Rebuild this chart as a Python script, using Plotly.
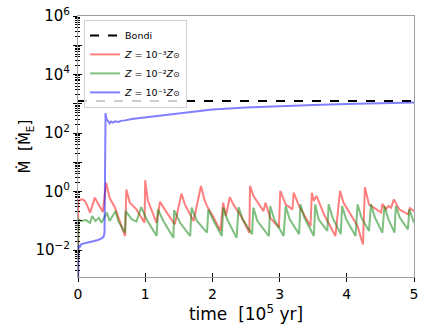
import plotly.graph_objects as go

# time in units of 1e5 yr, accretion rate in units of Mdot_E
bondi_t = [0.0, 5.0]
bondi_mdot = [1250, 1250]

red_t = [0.0, 0.003, 0.06, 0.10, 0.13, 0.18, 0.25, 0.31, 0.37, 0.42, 0.47, 0.55, 0.62, 0.70,
         0.72, 0.77, 0.87, 0.99, 1.00, 1.04, 1.17, 1.22, 1.32, 1.44, 1.54, 1.59, 1.72,
         1.83, 1.88, 1.92, 2.02, 2.12, 2.16, 2.20, 2.26, 2.31, 2.44, 2.55, 2.56, 2.61,
         2.76, 2.79, 2.86, 2.99, 3.01, 3.09, 3.19, 3.21, 3.29, 3.46, 3.48, 3.51, 3.55,
         3.66, 3.83, 3.90, 3.95, 4.16, 4.24, 4.27, 4.33, 4.51, 4.53, 4.58, 4.62, 4.66,
         4.70, 4.78, 4.91, 4.94, 5.00]
red_mdot = [1e-4, 0.48, 0.537, 0.48, 0.363, 0.19, 0.617, 0.35, 0.2, 2.0, 0.617, 0.28, 0.098, 0.030,
            1.17, 0.417, 0.245, 0.085, 2.4, 0.48, 0.085, 0.447, 0.19, 0.076, 0.85, 0.363, 0.098,
            1.55, 0.537, 0.316, 0.126, 0.045, 0.417, 0.145, 0.646, 0.363, 0.126, 0.039, 1.55, 0.708,
            0.214, 0.417, 0.126, 0.058, 1.05, 0.363, 0.245, 0.91, 0.316, 0.066, 0.91, 0.48, 0.708,
            0.166, 0.030, 1.05, 0.417, 0.066, 0.0155, 1.41, 0.363, 0.19, 0.38, 0.245, 0.316, 0.28,
            0.537, 0.245, 0.166, 0.27, 0.21]

green_t = [0.0, 0.003, 0.05, 0.12, 0.18, 0.21, 0.26, 0.31, 0.35, 0.43, 0.47, 0.56, 0.60, 0.70,
           0.71, 0.80, 0.87, 0.94, 1.02, 1.17, 1.19, 1.27, 1.42, 1.43, 1.52, 1.67, 1.69, 1.77,
           1.92, 1.94, 2.02, 2.14, 2.16, 2.22, 2.36, 2.39, 2.45, 2.59, 2.61, 2.67, 2.84, 2.86,
           2.92, 3.06, 3.09, 3.15, 3.29, 3.31, 3.37, 3.51, 3.53, 3.58, 3.71, 3.73, 3.79, 3.91,
           3.93, 3.99, 4.13, 4.16, 4.22, 4.33, 4.36, 4.42, 4.53, 4.56, 4.62, 4.71, 4.73, 4.79,
           4.91, 4.93, 5.00]
green_mdot = [1e-4, 0.112, 0.098, 0.105, 0.085, 0.145, 0.098, 0.126, 0.085, 0.19, 0.098, 0.214, 0.098, 0.039,
              0.214, 0.112, 0.093, 0.295, 0.112, 0.030, 0.245, 0.098, 0.026, 0.23, 0.085, 0.030, 0.28, 0.098,
              0.039, 0.245, 0.098, 0.030, 0.28, 0.112, 0.026, 0.295, 0.112, 0.035, 0.28, 0.098, 0.030, 0.316,
              0.112, 0.030, 0.316, 0.112, 0.035, 0.363, 0.126, 0.030, 0.363, 0.112, 0.045, 0.363, 0.126, 0.035,
              0.316, 0.112, 0.030, 0.363, 0.126, 0.045, 0.363, 0.126, 0.039, 0.316, 0.112, 0.039, 0.316, 0.126,
              0.051, 0.245, 0.085]

blue_t = [0.0, 0.004, 0.02, 0.05, 0.10, 0.15, 0.20, 0.25, 0.30, 0.35, 0.38, 0.395, 0.41, 0.42,
          0.43, 0.45, 0.47, 0.49, 0.52, 0.55, 0.60, 0.65, 0.70, 0.80, 1.0, 1.25, 1.5, 1.75,
          2.0, 2.5, 3.0, 3.5, 4.0, 4.5, 5.0]
blue_mdot = [1e-4, 0.015, 0.012, 0.016, 0.017, 0.018, 0.019, 0.020, 0.022, 0.025, 0.028, 0.04, 480, 330,
             290, 240, 215, 245, 225, 250, 240, 265, 270, 300, 340, 410, 480, 560,
             640, 740, 830, 910, 980, 1040, 1100]

y_major = [1e-2, 1e-1, 1e0, 1e1, 1e2, 1e3, 1e4, 1e5, 1e6]
y_major_text = ["10<sup>−2</sup>", "", "10<sup>0</sup>", "", "10<sup>2</sup>", "",
                "10<sup>4</sup>", "", "10<sup>6</sup>"]
y_minor = [k * 10.0 ** e for e in range(-3, 6) for k in range(2, 10)]

font = "DejaVu Sans"
sun = "<span style='font-size:8px'>⊙</span>"

fig = go.Figure()
fig.add_trace(go.Scatter(x=bondi_t, y=bondi_mdot, mode="lines", name="Bondi",
                         line=dict(color="black", width=2, dash="dash")))
fig.add_trace(go.Scatter(x=red_t, y=red_mdot, mode="lines",
                         name="<i>Z</i> = 10⁻³<i>Z</i>" + sun,
                         line=dict(color="rgba(255,0,0,0.5)", width=2)))
fig.add_trace(go.Scatter(x=green_t, y=green_mdot, mode="lines",
                         name="<i>Z</i> = 10⁻²<i>Z</i>" + sun,
                         line=dict(color="rgba(0,128,0,0.5)", width=2)))
fig.add_trace(go.Scatter(x=blue_t, y=blue_mdot, mode="lines",
                         name="<i>Z</i> = 10⁻¹<i>Z</i>" + sun,
                         line=dict(color="rgba(0,0,255,0.5)", width=2)))

# inward-pointing copies of the ticks to imitate matplotlib "inout" ticks
fig.add_trace(go.Scatter(x=[None], y=[None], xaxis="x2", yaxis="y2", showlegend=False))

fig.update_layout(
    width=436, height=327,
    margin=dict(l=78, r=22, t=16, b=50, autoexpand=False),
    plot_bgcolor="white", paper_bgcolor="white",
    font=dict(family=font, color="black"),
    showlegend=True,
    legend=dict(x=0.018, y=0.985, xanchor="left", yanchor="top",
                bgcolor="rgba(255,255,255,0.8)", bordercolor="#d0d0d0", borderwidth=1,
                font=dict(size=9.5), tracegroupgap=0, itemwidth=30),
    xaxis=dict(range=[0, 5], tickvals=[0, 1, 2, 3, 4, 5], ticks="outside", ticklen=4,
               tickcolor="black", showline=True, linecolor="#a0a0a0", mirror=True,
               showgrid=False, zeroline=False, tickfont=dict(size=14), automargin=False,
               title=dict(text="time  [10<sup>5</sup> yr]", font=dict(size=17), standoff=2)),
    yaxis=dict(type="log", range=[-2.923, 6], tickvals=y_major, ticktext=y_major_text,
               ticks="outside", ticklen=4, tickcolor="black", showline=True,
               linecolor="#a0a0a0", mirror=True, showgrid=False, zeroline=False,
               tickfont=dict(size=15), automargin=False, ticklabeloverflow="allow",
               minor=dict(tickvals=y_minor, ticks="outside", ticklen=2, tickcolor="black",
                          showgrid=False)),
    xaxis2=dict(overlaying="x", matches="x", range=[0, 5], tickvals=[0, 1, 2, 3, 4, 5],
                ticks="inside", ticklen=4, tickcolor="black", showticklabels=False,
                showgrid=False, zeroline=False, side="bottom", automargin=False),
    yaxis2=dict(overlaying="y", type="log", range=[-2.923, 6], tickvals=y_major,
                ticks="inside", ticklen=4, tickcolor="black", showticklabels=False,
                showgrid=False, zeroline=False, side="left", automargin=False,
                minor=dict(tickvals=y_minor, ticks="inside", ticklen=2, tickcolor="black",
                           showgrid=False)),
    annotations=[dict(text="Ṁ  [Ṁ<sub>E</sub>]", textangle=-90, xref="paper", yref="paper",
                      x=-0.158, y=0.5, xanchor="center", yanchor="middle", showarrow=False,
                      font=dict(size=15))],
)

# drop the default 8px body margin so the figure fills the window
fig.write_html("out.html", config={"displayModeBar": False},
               post_script="document.body.style.margin='0';")
